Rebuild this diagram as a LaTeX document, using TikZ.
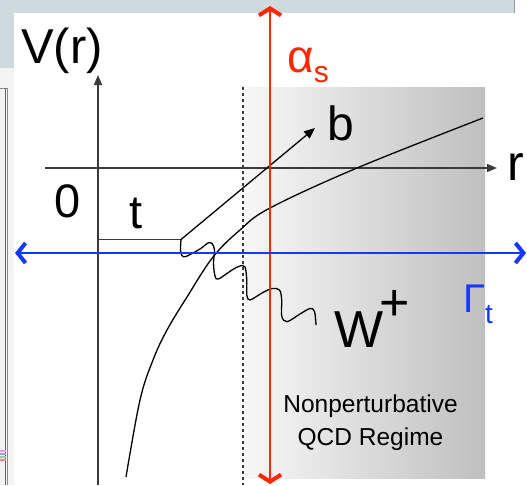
\documentclass[tikz,border=0pt]{standalone}
\usepackage{fontspec}
\setmainfont{Liberation Sans}
\usetikzlibrary{arrows.meta}
\definecolor{bandgray}{HTML}{CFDADF}
\definecolor{stripgray}{HTML}{F3F3F3}
\definecolor{axisgray}{HTML}{3A3A3A}
\definecolor{myred}{HTML}{FF2600}
\definecolor{myblue}{HTML}{1438FF}
\tikzset{
  lbl/.style={inner sep=0pt, anchor=base west},
  axisline/.style={draw=axisgray, line width=1.4pt},
  curveline/.style={draw=black, line width=1.3pt},
  bigred/.style={draw=myred, line width=2pt, {Straight Barb[length=7pt,width=22pt,line width=4pt]}-{Straight Barb[length=7pt,width=22pt,line width=4pt]}},
  bigblue/.style={draw=myblue, line width=2pt, {Straight Barb[length=8pt,width=20pt,line width=4pt]}-{Straight Barb[length=8pt,width=20pt,line width=4pt]}},
  blacktip/.style={-{Triangle[length=10pt,width=8pt]}}
}
\begin{document}
\begin{tikzpicture}[x=1pt,y=-1pt]
\useasboundingbox (0,0) rectangle (527,485);
% window background
\fill[white] (0,0) rectangle (527,485);
\fill[bandgray] (0,0) rectangle (514,13);
\draw[color=black!40, line width=1.5pt] (514.5,0) -- (514.5,13);
\fill[bandgray] (0,0) rectangle (14,68);
\fill[stripgray] (0,68) rectangle (14,485);
\draw[color=black!45, line width=1pt] (0,88) -- (7,88) -- (7,485);
\draw[color=black!60, line width=1pt] (5.5,88) -- (5.5,485);
\draw[color=magenta!40, line width=1.5pt] (0,451) -- (6,451);
\draw[color=blue!40, line width=1.5pt] (0,454) -- (6,454);
\draw[color=green!50!black!40, line width=1.5pt] (0,457) -- (6,457);
\draw[color=red!50, line width=1.5pt] (0,460) -- (6,460);
% nonperturbative region
\shade[left color=black!3, right color=black!25] (243,87) rectangle (485,478);
\draw[color=axisgray, line width=1.2pt, dash pattern=on 3pt off 3pt] (243,87) -- (243,485);
% axes
\coordinate (vbot) at (98,485);
\coordinate (vtop) at (98,75);
\coordinate (rleft) at (45,168);
\coordinate (rright) at (497,168);
\draw[axisline, blacktip] (vbot) -- (vtop);
\draw[axisline, blacktip] (rleft) -- (rright);
% potential curve
\draw[curveline] plot[smooth, tension=0.6] coordinates {(126,477) (140,400) (153,360) (167,330) (187,297) (213,257) (240,230) (270,208) (357,168) (483,118)};
% top quark line and b
\coordinate (tstart) at (98,239.5);
\coordinate (vtx) at (181,239.5);
\coordinate (btip) at (315,128);
\draw[axisline] (tstart) -- (vtx);
\draw[curveline, -{Triangle[length=11pt,width=9pt]}] (vtx) -- (btip);
% W wiggle
\draw[curveline] plot[smooth, tension=0.55] coordinates {(181,239.5) (180.5,250) (182,255.5) (186,256.5) (200,249) (208,243) (212,243.5) (214.5,250) (213.5,263) (215,276) (218.5,279) (232,270) (240,266) (245,267) (246.8,280) (246.8,295) (250,300) (262,293) (272,288.5) (279.5,290) (281.7,300) (281.7,316) (287,321.7) (300,314) (310,308.5) (314.5,311.5) (316,325)};
% red and blue arrows
\coordinate (redtop) at (270,6);
\coordinate (redbot) at (270,484);
\draw[bigred] (redbot) -- (redtop);
\coordinate (blueleft) at (15,253);
\coordinate (blueright) at (526,253);
\draw[bigblue] (blueleft) -- (blueright);
% labels
\node[lbl, font=\fontsize{49}{50}\selectfont] (vr) at (21,63) {V(r)};
\node[lbl, font=\fontsize{46}{48}\selectfont, text=myred] (alphas) at (287,72) {α\raisebox{-10pt}{\fontsize{30}{30}\selectfont s}};
\node[lbl, font=\fontsize{48}{50}\selectfont] (blbl) at (327,140) {b};
\node[lbl, font=\fontsize{50}{52}\selectfont] (rlbl) at (507,180) {r};
\node[lbl, font=\fontsize{47}{48}\selectfont] (zero) at (54,217) {0};
\node[lbl, font=\fontsize{47}{48}\selectfont] (tlbl) at (129,228) {t};
\node[lbl, font=\fontsize{52}{54}\selectfont] (wlbl) at (334,347) {W\hspace{-4pt}\raisebox{26.5pt}{+}};
\node[lbl, font=\fontsize{40}{42}\selectfont, text=myblue] (gamma) at (463,312) {Γ\raisebox{-11pt}{\fontsize{28}{28}\selectfont t}};
\node[inner sep=0pt, anchor=base, font=\fontsize{24.5}{26}\selectfont] (np) at (370.5,412) {Nonperturbative};
\node[inner sep=0pt, anchor=base, font=\fontsize{24.5}{26}\selectfont] (qcd) at (370.5,445) {QCD Regime};
\end{tikzpicture}
\end{document}
